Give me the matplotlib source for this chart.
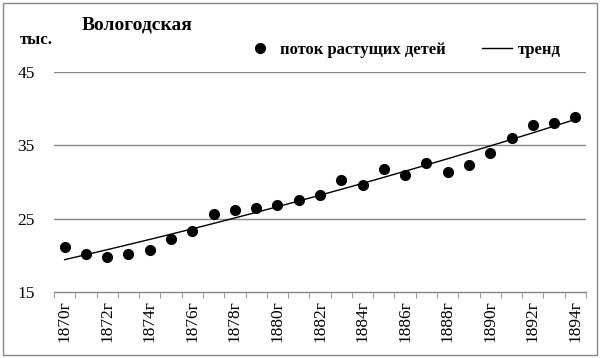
import numpy as np
import matplotlib
matplotlib.use("Agg")
import matplotlib.pyplot as plt
from matplotlib.patches import Rectangle

years = list(range(1870, 1895))
values = [21.1, 20.2, 19.8, 20.2, 20.7, 22.2, 23.3, 25.6, 26.2, 26.5, 26.8, 27.5,
          28.2, 30.3, 29.6, 31.8, 31.0, 32.6, 31.4, 32.3, 34.0, 36.0, 37.8, 38.0, 38.9]
yticks = [15, 25, 35, 45]
title = "Вологодская"
unit = "тыс."
series_label = "поток растущих детей"
trend_label = "тренд"

plt.rcParams['font.family'] = ['Liberation Serif', 'DejaVu Serif']

fig = plt.figure(figsize=(6.0, 3.58), dpi=100)
ax = fig.add_axes([54/600, 1-292/358, (586-54)/600, (292-72)/358])

x = np.arange(len(years))
coef = np.polyfit(x, values, 2)
trend = np.polyval(coef, x)

ax.plot(x, values, 'o', color='black', ms=7, label=series_label, zorder=3)
ax.plot(x, trend, '-', color='black', lw=1, label=trend_label, zorder=2)

ax.set_xlim(-0.5, len(years) - 0.5)
ax.set_ylim(15, 45)
ax.set_yticks(yticks)
ax.set_yticklabels([str(v) for v in yticks], fontsize=12.5)
ax.tick_params(axis='y', length=0, pad=14)
for v in yticks[1:]:
    ax.axhline(v, color='#888888', lw=1, zorder=1)

ax.set_xticks(x[::2])
ax.set_xticklabels([f"{y}г" for y in years[::2]], rotation=90, fontsize=12.5)
ax.set_xticks(np.arange(-0.5, len(years)), minor=True)
ax.tick_params(axis='x', which='major', length=0, pad=6)
ax.tick_params(axis='x', which='minor', length=4, color='#888888', direction='out')

for s in ['left', 'right', 'top']:
    ax.spines[s].set_visible(False)
ax.spines['bottom'].set_color('#888888')
ax.spines['bottom'].set_linewidth(1)

fig.text(82/600, 1-25/358, title, fontsize=14, fontweight='bold', va='center', ha='left')
fig.text(20/600, 1-40/358, unit, fontsize=12, fontweight='bold', va='center', ha='left')

leg = fig.legend(loc='center left', bbox_to_anchor=(245/600, 1-50/358), ncol=2, frameon=False,
                 prop={'size': 12, 'weight': 'bold'}, handlelength=1.8, columnspacing=2.2,
                 handletextpad=0.3, borderaxespad=0, borderpad=0)

fig.patches.append(Rectangle((3/600, 3/358), 594/600, 352/358, transform=fig.transFigure,
                             fill=False, edgecolor='#888888', lw=1))

fig.savefig("out.png", dpi=100)
